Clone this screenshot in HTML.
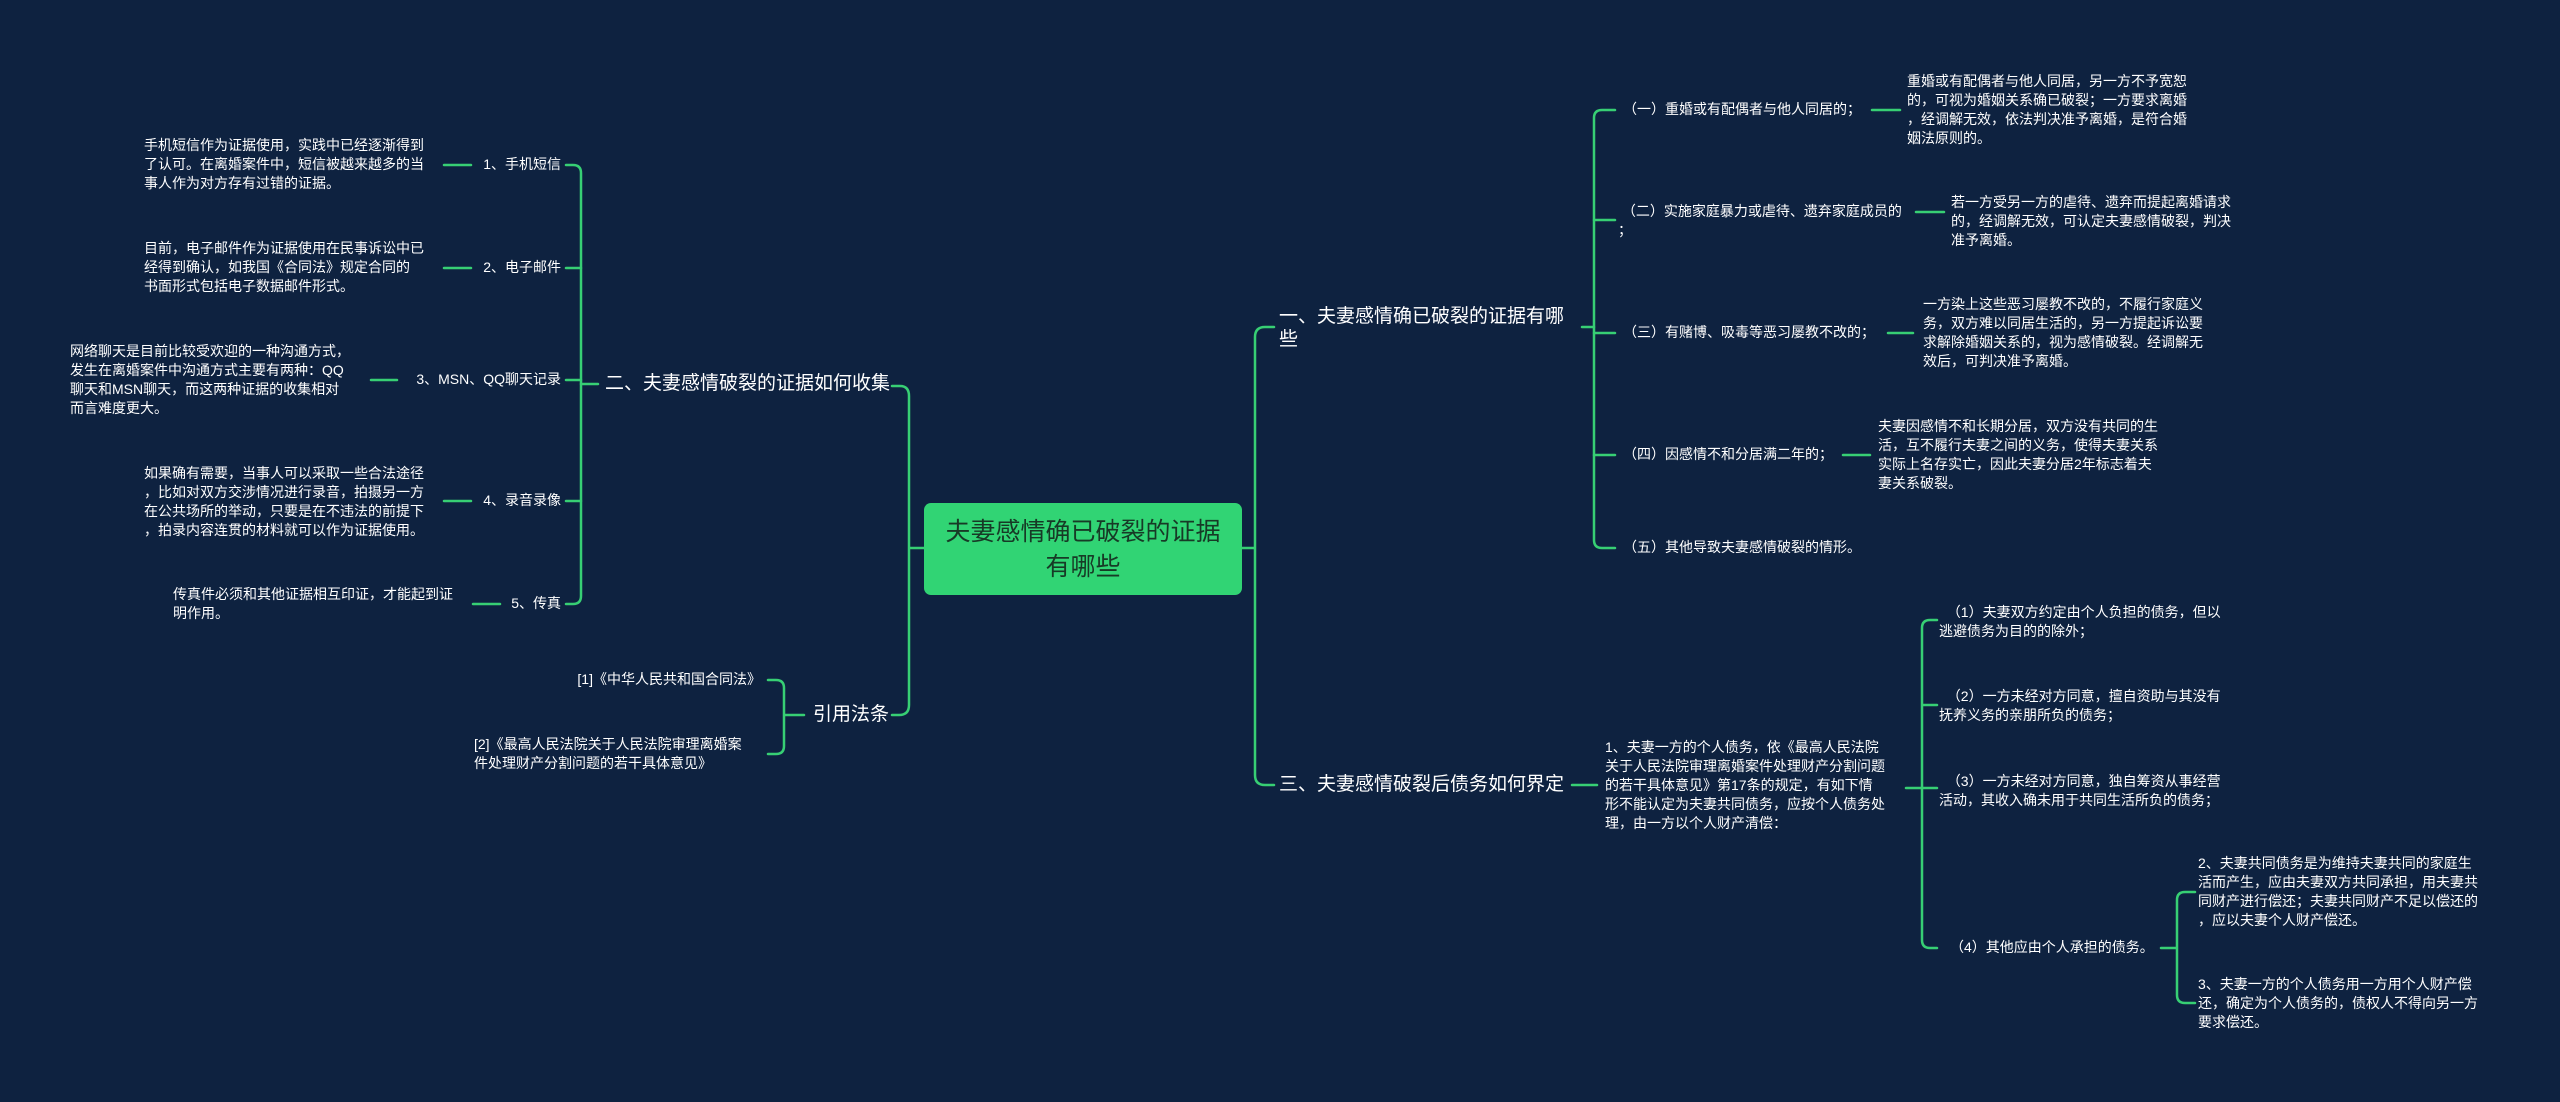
<!DOCTYPE html>
<html><head><meta charset="utf-8"><style>
html,body{margin:0;padding:0}
body{width:2560px;height:1102px;background:#0e2240;position:relative;overflow:hidden;font-family:"Liberation Sans","Noto Sans CJK SC",sans-serif;color:#fff}
.t{position:absolute;font-size:14px;line-height:19px;white-space:nowrap}
.h{position:absolute;font-size:19px;line-height:23px;white-space:nowrap}
.r{text-align:right}
svg{position:absolute;left:0;top:0}
</style></head><body>
<svg width="2560" height="1102" fill="none" stroke="#37cf74" stroke-width="2.5" stroke-linecap="round">
<path d="M566,165 H573 Q581,165 581,173 V596 Q581,604 573,604 H566"/>
<path d="M566,268 H581 M566,380 H581 M566,501 H581 M581,384 H598"/>
<path d="M444,165 H471 M444,268 H471 M371,380 H397 M444,501 H471 M473,604 H500"/>
<path d="M892,386 H900 Q909,386 909,396 V705 Q909,715 899,715 H892 M909,548 H924"/>
<path d="M768,680 H776 Q784,680 784,688 V746 Q784,754 776,754 H768 M784,715 H804"/>
<path d="M1274,327 H1265 Q1255,327 1255,337 V775 Q1255,785 1265,785 H1274 M1242,548 H1255"/>
<path d="M1615,110 H1602 Q1594,110 1594,118 V540 Q1594,548 1602,548 H1615"/>
<path d="M1594,220 H1615 M1594,333 H1615 M1594,455 H1615 M1582,327 H1594"/>
<path d="M1872,110 H1900 M1916,212 H1944 M1888,333 H1913 M1843,455 H1870"/>
<path d="M1572,785 H1597"/>
<path d="M1937,620 H1930 Q1922,620 1922,628 V940 Q1922,948 1930,948 H1937 M1922,705 H1937 M1906,788 H1937"/>
<path d="M2161,948 H2177 M2195,892 H2185 Q2177,892 2177,900 V995 Q2177,1003 2185,1003 H2195"/>
</svg>

<div style="position:absolute;left:924px;top:503px;width:318px;height:92px;background:#31d474;border-radius:7px;color:#173a26;font-size:25px;line-height:35px;text-align:center;padding-top:12px;box-sizing:border-box">夫妻感情确已破裂的证据<br>有哪些</div>

<div class="t" style="left:144px;top:136px">手机短信作为证据使用，实践中已经逐渐得到<br>了认可。在离婚案件中，短信被越来越多的当<br>事人作为对方存有过错的证据。</div>
<div class="t" style="left:144px;top:239px">目前，电子邮件作为证据使用在民事诉讼中已<br>经得到确认，如我国《合同法》规定合同的<br>书面形式包括电子数据邮件形式。</div>
<div class="t" style="left:70px;top:342px">网络聊天是目前比较受欢迎的一种沟通方式，<br>发生在离婚案件中沟通方式主要有两种：QQ<br>聊天和MSN聊天，而这两种证据的收集相对<br>而言难度更大。</div>
<div class="t" style="left:144px;top:464px">如果确有需要，当事人可以采取一些合法途径<br>，比如对双方交涉情况进行录音，拍摄另一方<br>在公共场所的举动，只要是在不违法的前提下<br>，拍录内容连贯的材料就可以作为证据使用。</div>
<div class="t" style="left:173px;top:585px">传真件必须和其他证据相互印证，才能起到证<br>明作用。</div>

<div class="t r" style="right:1999px;top:155px">1、手机短信</div>
<div class="t r" style="right:1999px;top:258px">2、电子邮件</div>
<div class="t r" style="right:1999px;top:370px">3、MSN、QQ聊天记录</div>
<div class="t r" style="right:1999px;top:491px">4、录音录像</div>
<div class="t r" style="right:1999px;top:594px">5、传真</div>

<div class="h" style="left:605px;top:372px">二、夫妻感情破裂的证据如何收集</div>
<div class="h" style="left:813px;top:703px">引用法条</div>
<div class="t r" style="right:1799px;top:670px">[1]《中华人民共和国合同法》</div>
<div class="t" style="left:474px;top:735px;line-height:18.5px">[2]《最高人民法院关于人民法院审理离婚案<br>件处理财产分割问题的若干具体意见》</div>

<div class="h" style="left:1279px;top:305px">一、夫妻感情确已破裂的证据有哪<br>些</div>
<div class="t" style="left:1623px;top:100px">（一）重婚或有配偶者与他人同居的；</div>
<div class="t" style="left:1907px;top:72px">重婚或有配偶者与他人同居，另一方不予宽恕<br>的，可视为婚姻关系确已破裂；一方要求离婚<br>，经调解无效，依法判决准予离婚，是符合婚<br>姻法原则的。</div>
<div class="t" style="left:1618px;top:202px">&nbsp;（二）实施家庭暴力或虐待、遗弃家庭成员的<br>；</div>
<div class="t" style="left:1951px;top:193px">若一方受另一方的虐待、遗弃而提起离婚请求<br>的，经调解无效，可认定夫妻感情破裂，判决<br>准予离婚。</div>
<div class="t" style="left:1623px;top:323px">（三）有赌博、吸毒等恶习屡教不改的；</div>
<div class="t" style="left:1923px;top:295px">一方染上这些恶习屡教不改的，不履行家庭义<br>务，双方难以同居生活的，另一方提起诉讼要<br>求解除婚姻关系的，视为感情破裂。经调解无<br>效后，可判决准予离婚。</div>
<div class="t" style="left:1623px;top:445px">（四）因感情不和分居满二年的；</div>
<div class="t" style="left:1878px;top:417px">夫妻因感情不和长期分居，双方没有共同的生<br>活，互不履行夫妻之间的义务，使得夫妻关系<br>实际上名存实亡，因此夫妻分居2年标志着夫<br>妻关系破裂。</div>
<div class="t" style="left:1623px;top:538px">（五）其他导致夫妻感情破裂的情形。</div>

<div class="h" style="left:1279px;top:773px">三、夫妻感情破裂后债务如何界定</div>
<div class="t" style="left:1605px;top:738px">1、夫妻一方的个人债务，依《最高人民法院<br>关于人民法院审理离婚案件处理财产分割问题<br>的若干具体意见》第17条的规定，有如下情<br>形不能认定为夫妻共同债务，应按个人债务处<br>理，由一方以个人财产清偿：</div>
<div class="t" style="left:1939px;top:603px">&nbsp;&nbsp;（1）夫妻双方约定由个人负担的债务，但以<br>逃避债务为目的的除外；</div>
<div class="t" style="left:1939px;top:687px">&nbsp;&nbsp;（2）一方未经对方同意，擅自资助与其没有<br>抚养义务的亲朋所负的债务；</div>
<div class="t" style="left:1939px;top:772px">&nbsp;&nbsp;（3）一方未经对方同意，独自筹资从事经营<br>活动，其收入确未用于共同生活所负的债务；</div>
<div class="t" style="left:1950px;top:938px">（4）其他应由个人承担的债务。</div>
<div class="t" style="left:2198px;top:854px">2、夫妻共同债务是为维持夫妻共同的家庭生<br>活而产生，应由夫妻双方共同承担，用夫妻共<br>同财产进行偿还；夫妻共同财产不足以偿还的<br>，应以夫妻个人财产偿还。</div>
<div class="t" style="left:2198px;top:975px">3、夫妻一方的个人债务用一方用个人财产偿<br>还，确定为个人债务的，债权人不得向另一方<br>要求偿还。</div>
</body></html>
